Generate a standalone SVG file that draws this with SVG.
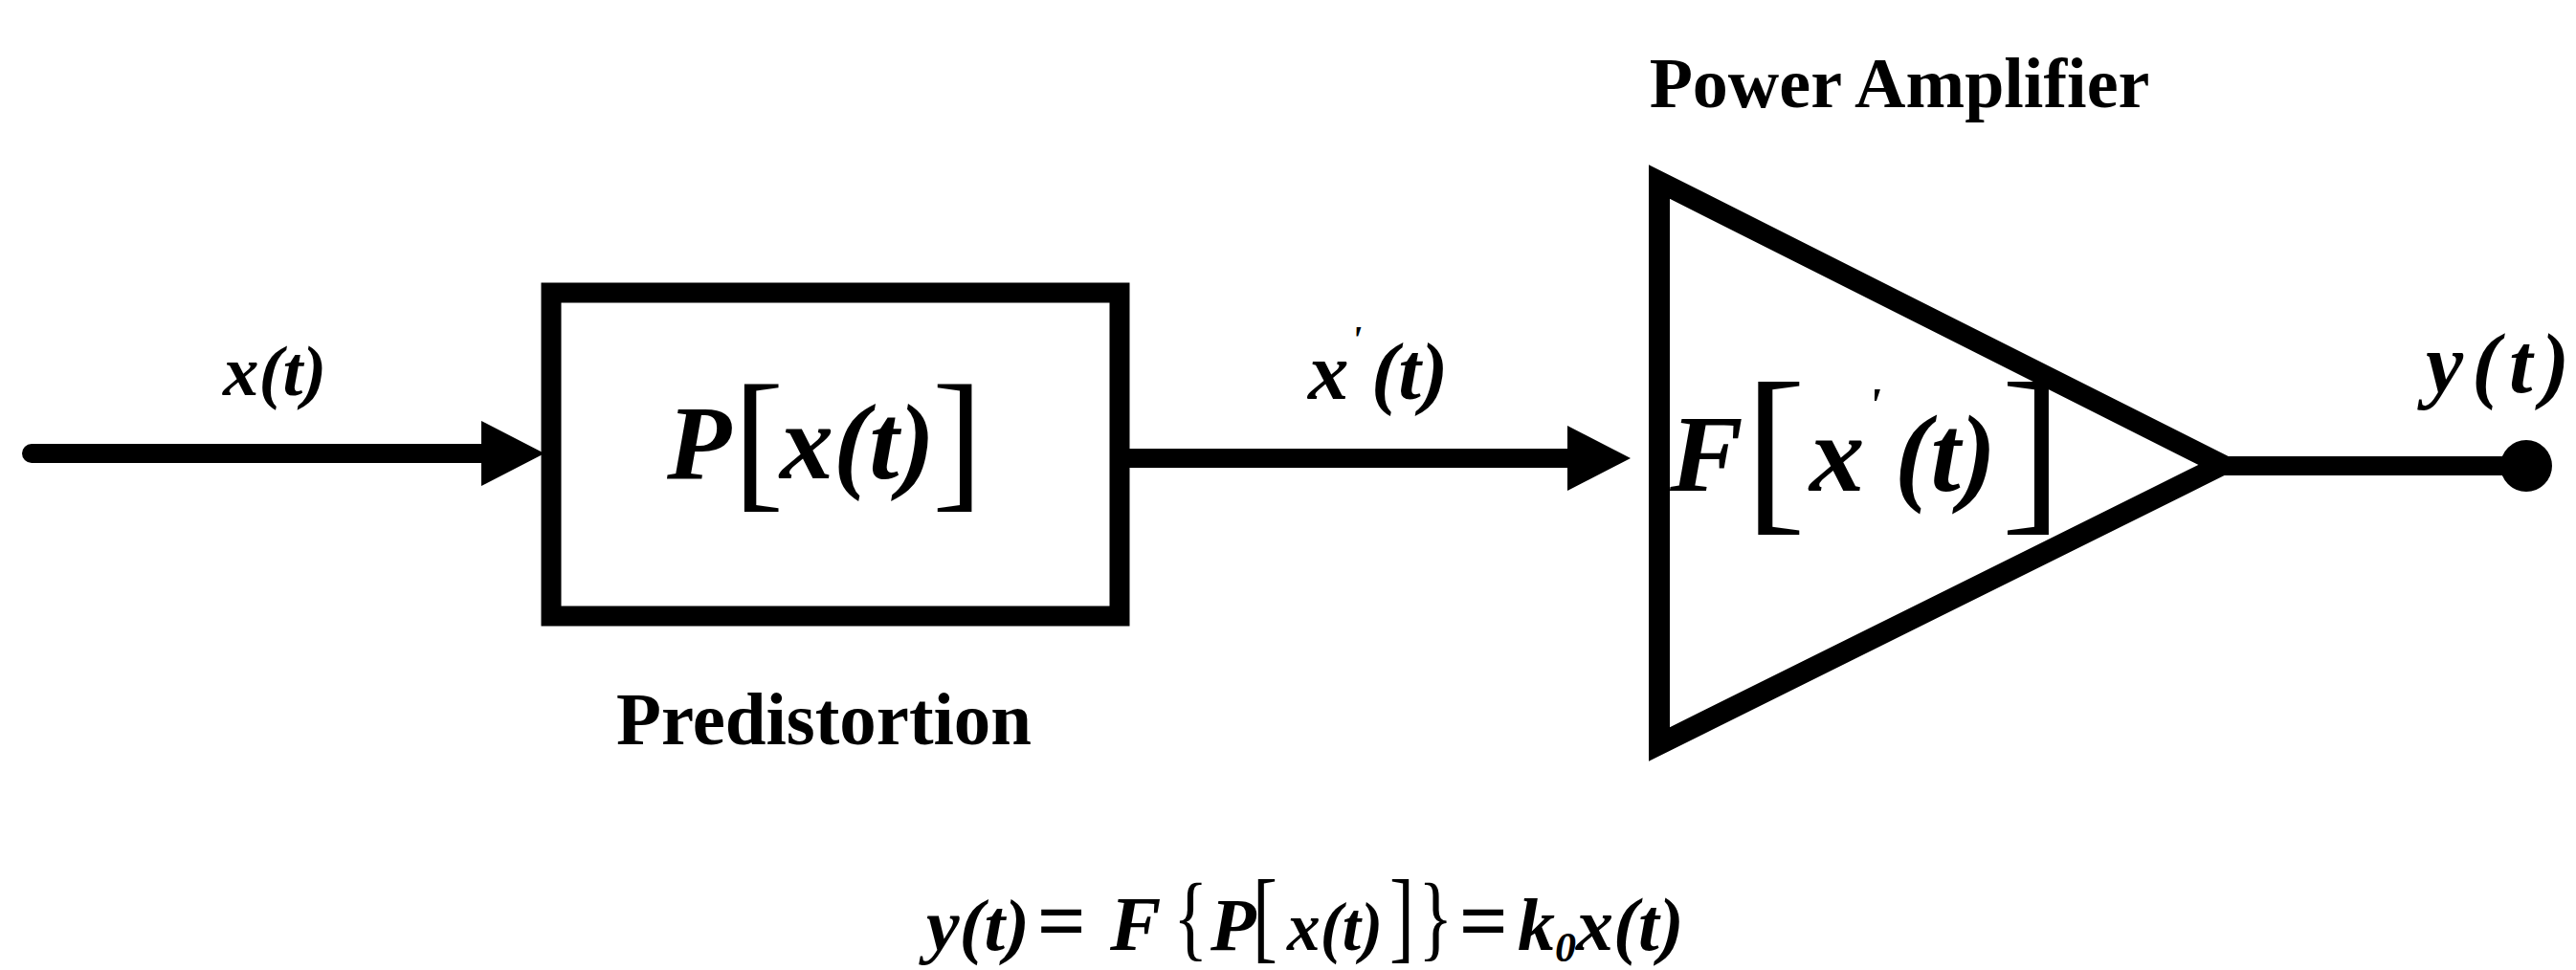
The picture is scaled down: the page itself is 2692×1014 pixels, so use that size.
<svg xmlns="http://www.w3.org/2000/svg" width="2692" height="1014" viewBox="0 0 2692 1014">
  <style>
    .shape { fill: #ffffff; stroke: #000000; stroke-linejoin: miter; }
    .wire { fill: none; stroke: #000000; stroke-width: 20; }
    .math { font-family: "Liberation Serif", "Times New Roman", serif; font-style: italic; font-weight: bold; fill: #000000; }
    .brk { font-family: "Liberation Serif", "Times New Roman", serif; font-style: normal; font-weight: normal; fill: #000000; }
    .lbl { font-family: "Liberation Serif", "Times New Roman", serif; font-weight: bold; fill: #000000; }
  </style>
  <defs>
    <marker id="arrow" viewBox="0 0 66 68" refX="2" refY="34" markerWidth="66" markerHeight="68" markerUnits="userSpaceOnUse" orient="auto">
      <path d="M0,0 L66,34 L0,68 z" fill="#000000"/>
    </marker>
  </defs>
  <rect width="2692" height="1014" fill="#ffffff"/>

  <g id="connectors">
    <line class="wire" x1="33" y1="474" x2="505" y2="474" stroke-linecap="round" marker-end="url(#arrow)"/>
    <line class="wire" x1="1180" y1="479" x2="1640" y2="479" marker-end="url(#arrow)"/>
    <line class="wire" x1="2322" y1="487" x2="2640" y2="487"/>
    <circle cx="2640" cy="487" r="27" fill="#000000"/>
  </g>

  <g id="label-input">
    <text class="math" x="233" y="413" font-size="75">x(t)</text>
  </g>

  <g id="predistortion">
    <rect class="shape" x="576" y="306" width="594" height="338" stroke-width="21"/>
    <text class="math" x="697" y="500" font-size="110">P</text>
    <text class="brk" x="766" y="513" font-size="160">[</text>
    <text class="math" x="815" y="500" font-size="112">x(t)</text>
    <text class="brk" x="974" y="513" font-size="160">]</text>
    <text class="lbl" x="644" y="778" font-size="78" textLength="434" lengthAdjust="spacingAndGlyphs">Predistortion</text>
  </g>

  <g id="label-mid">
    <text class="math" x="1367" y="417" font-size="85">x</text>
    <text class="math" x="1412" y="368" font-size="40">'</text>
    <text class="math" x="1433" y="417" font-size="85">(t)</text>
  </g>

  <g id="power-amplifier">
    <polygon class="shape" points="1734,190 1734,778 2322,486" stroke-width="22"/>
    <text class="math" x="1745" y="513" font-size="115">F</text>
    <text class="brk" x="1823" y="533" font-size="193">[</text>
    <text class="math" x="1891" y="513" font-size="115">x</text>
    <text class="math" x="1952" y="440" font-size="50">'</text>
    <text class="math" x="1980" y="513" font-size="115" textLength="106" lengthAdjust="spacingAndGlyphs">(t)</text>
    <text class="brk" x="2091" y="533" font-size="193">]</text>
    <text class="lbl" x="1985" y="112" font-size="74" text-anchor="middle">Power Amplifier</text>
  </g>

  <g id="label-output">
    <text class="math" x="2535" y="410" font-size="88" textLength="150" lengthAdjust="spacing">y(t)</text>
  </g>

  <g id="equation">
    <text class="math" x="968" y="993" font-size="76" textLength="108" lengthAdjust="spacingAndGlyphs">y(t)</text>
    <text class="math" x="1083" y="993" font-size="90">=</text>
    <text class="math" x="1160" y="993" font-size="80">F</text>
    <text class="brk" transform="translate(1226,992) scale(1,1.3)" font-size="76">{</text>
    <text class="math" x="1265" y="993" font-size="78">P</text>
    <text class="brk" transform="translate(1309,993) scale(1,1.35)" font-size="78">[</text>
    <text class="math" x="1345" y="993" font-size="72" textLength="100" lengthAdjust="spacingAndGlyphs">x(t)</text>
    <text class="brk" transform="translate(1452,993) scale(1,1.35)" font-size="78">]</text>
    <text class="brk" transform="translate(1482,992) scale(1,1.3)" font-size="76">}</text>
    <text class="math" x="1524" y="993" font-size="90">=</text>
    <text class="math" x="1586" y="993" font-size="78">k<tspan font-size="44" dy="12">0</tspan><tspan font-size="78" dy="-12">x(t)</tspan></text>
  </g>
</svg>
